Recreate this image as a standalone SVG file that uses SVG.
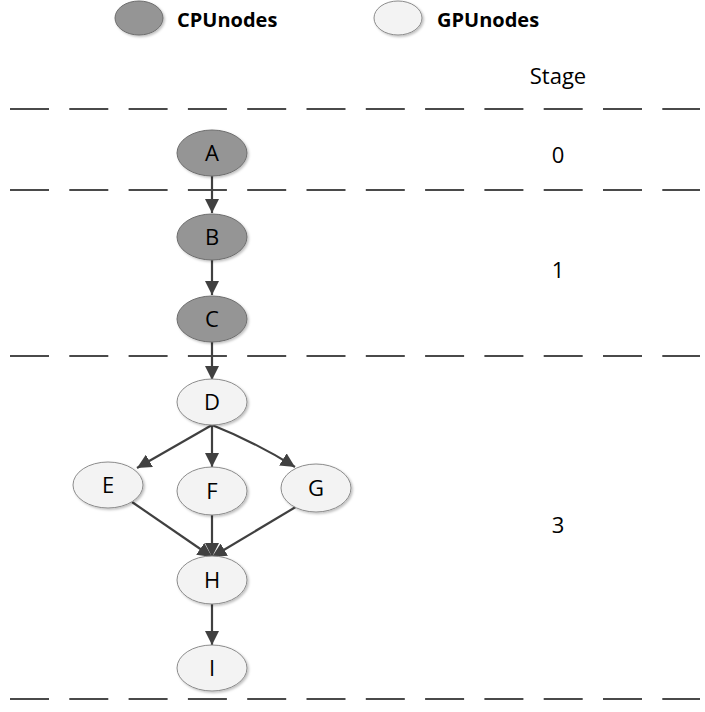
<svg xmlns="http://www.w3.org/2000/svg" width="705" height="712" viewBox="0 0 705 712">
<style>
.cpu{fill:#959595;stroke:#6e6e6e;stroke-width:1}
.gpu{fill:#f3f3f3;stroke:#8c8c8c;stroke-width:1}
.lbl{font-family:"Open Sans","Liberation Sans",sans-serif;font-size:22px;fill:#000;text-anchor:middle}
.leg{font-family:"Open Sans","Liberation Sans",sans-serif;font-size:20px;font-weight:bold;fill:#000}
.dash{stroke:#4a4a4a;stroke-width:2.2;stroke-dasharray:39 20.3;fill:none}
.edge{stroke:#404040;stroke-width:2.2;fill:none;marker-end:url(#ah)}
</style>
<defs>
<marker id="ah" viewBox="0 0 10 10" refX="10" refY="5" markerWidth="6.5" markerHeight="6.5" orient="auto" markerUnits="strokeWidth">
<path d="M0,0 L10,5 L0,10 Z" fill="#404040"/>
</marker>
<filter id="sh" x="-20%" y="-20%" width="150%" height="150%">
<feDropShadow dx="1.5" dy="1.5" stdDeviation="1.2" flood-color="#000" flood-opacity="0.25"/>
</filter>
</defs>
<rect width="705" height="712" fill="#fff"/>
<g id="legend">
<ellipse class="cpu" cx="139" cy="18" rx="24" ry="17" filter="url(#sh)"/>
<text class="leg" x="177" y="27">CPUnodes</text>
<ellipse class="gpu" cx="398" cy="18" rx="24" ry="17" filter="url(#sh)"/>
<text class="leg" x="437" y="27">GPUnodes</text>
</g>
<g id="stages">
<text class="lbl" x="558" y="84">Stage</text>
<text class="lbl" x="558" y="163">0</text>
<text class="lbl" x="558" y="278">1</text>
<text class="lbl" x="558" y="533">3</text>
<line class="dash" x1="10" y1="109" x2="700" y2="109"/>
<line class="dash" x1="10" y1="190" x2="700" y2="190"/>
<line class="dash" x1="10" y1="356" x2="700" y2="356"/>
<line class="dash" x1="10" y1="699" x2="700" y2="699"/>
</g>
<g id="connectors">
<line class="edge" x1="212" y1="176" x2="212" y2="213"/>
<line class="edge" x1="212" y1="260" x2="212" y2="295"/>
<line class="edge" x1="212" y1="342" x2="212" y2="380"/>
<line class="edge" x1="212" y1="425" x2="137" y2="468"/>
<line class="edge" x1="212" y1="425" x2="212" y2="467"/>
<path class="edge" d="M212,425 Q255,442 295,467"/>
<line class="edge" x1="132" y1="502" x2="212" y2="557"/>
<line class="edge" x1="212" y1="515" x2="212" y2="557"/>
<line class="edge" x1="299" y1="505" x2="212" y2="557"/>
<line class="edge" x1="212" y1="604" x2="212" y2="645"/>
</g>
<g id="A"><ellipse class="cpu" cx="212" cy="153" rx="35" ry="23" filter="url(#sh)"/><text class="lbl" x="212" y="161">A</text></g>
<g id="B"><ellipse class="cpu" cx="212" cy="237" rx="35" ry="23" filter="url(#sh)"/><text class="lbl" x="212" y="245">B</text></g>
<g id="C"><ellipse class="cpu" cx="212" cy="319" rx="35" ry="23" filter="url(#sh)"/><text class="lbl" x="212" y="327">C</text></g>
<g id="D"><ellipse class="gpu" cx="212" cy="402" rx="35" ry="23" filter="url(#sh)"/><text class="lbl" x="212" y="410">D</text></g>
<g id="E"><ellipse class="gpu" cx="108" cy="485" rx="35" ry="23" filter="url(#sh)"/><text class="lbl" x="108" y="493">E</text></g>
<g id="F"><ellipse class="gpu" cx="212" cy="491" rx="35" ry="24" filter="url(#sh)"/><text class="lbl" x="212" y="499">F</text></g>
<g id="G"><ellipse class="gpu" cx="316" cy="488" rx="35" ry="24" filter="url(#sh)"/><text class="lbl" x="316" y="496">G</text></g>
<g id="H"><ellipse class="gpu" cx="212" cy="580" rx="35" ry="24" filter="url(#sh)"/><text class="lbl" x="212" y="588">H</text></g>
<g id="I"><ellipse class="gpu" cx="212" cy="668" rx="35" ry="23" filter="url(#sh)"/><text class="lbl" x="212" y="676">I</text></g>
</svg>
